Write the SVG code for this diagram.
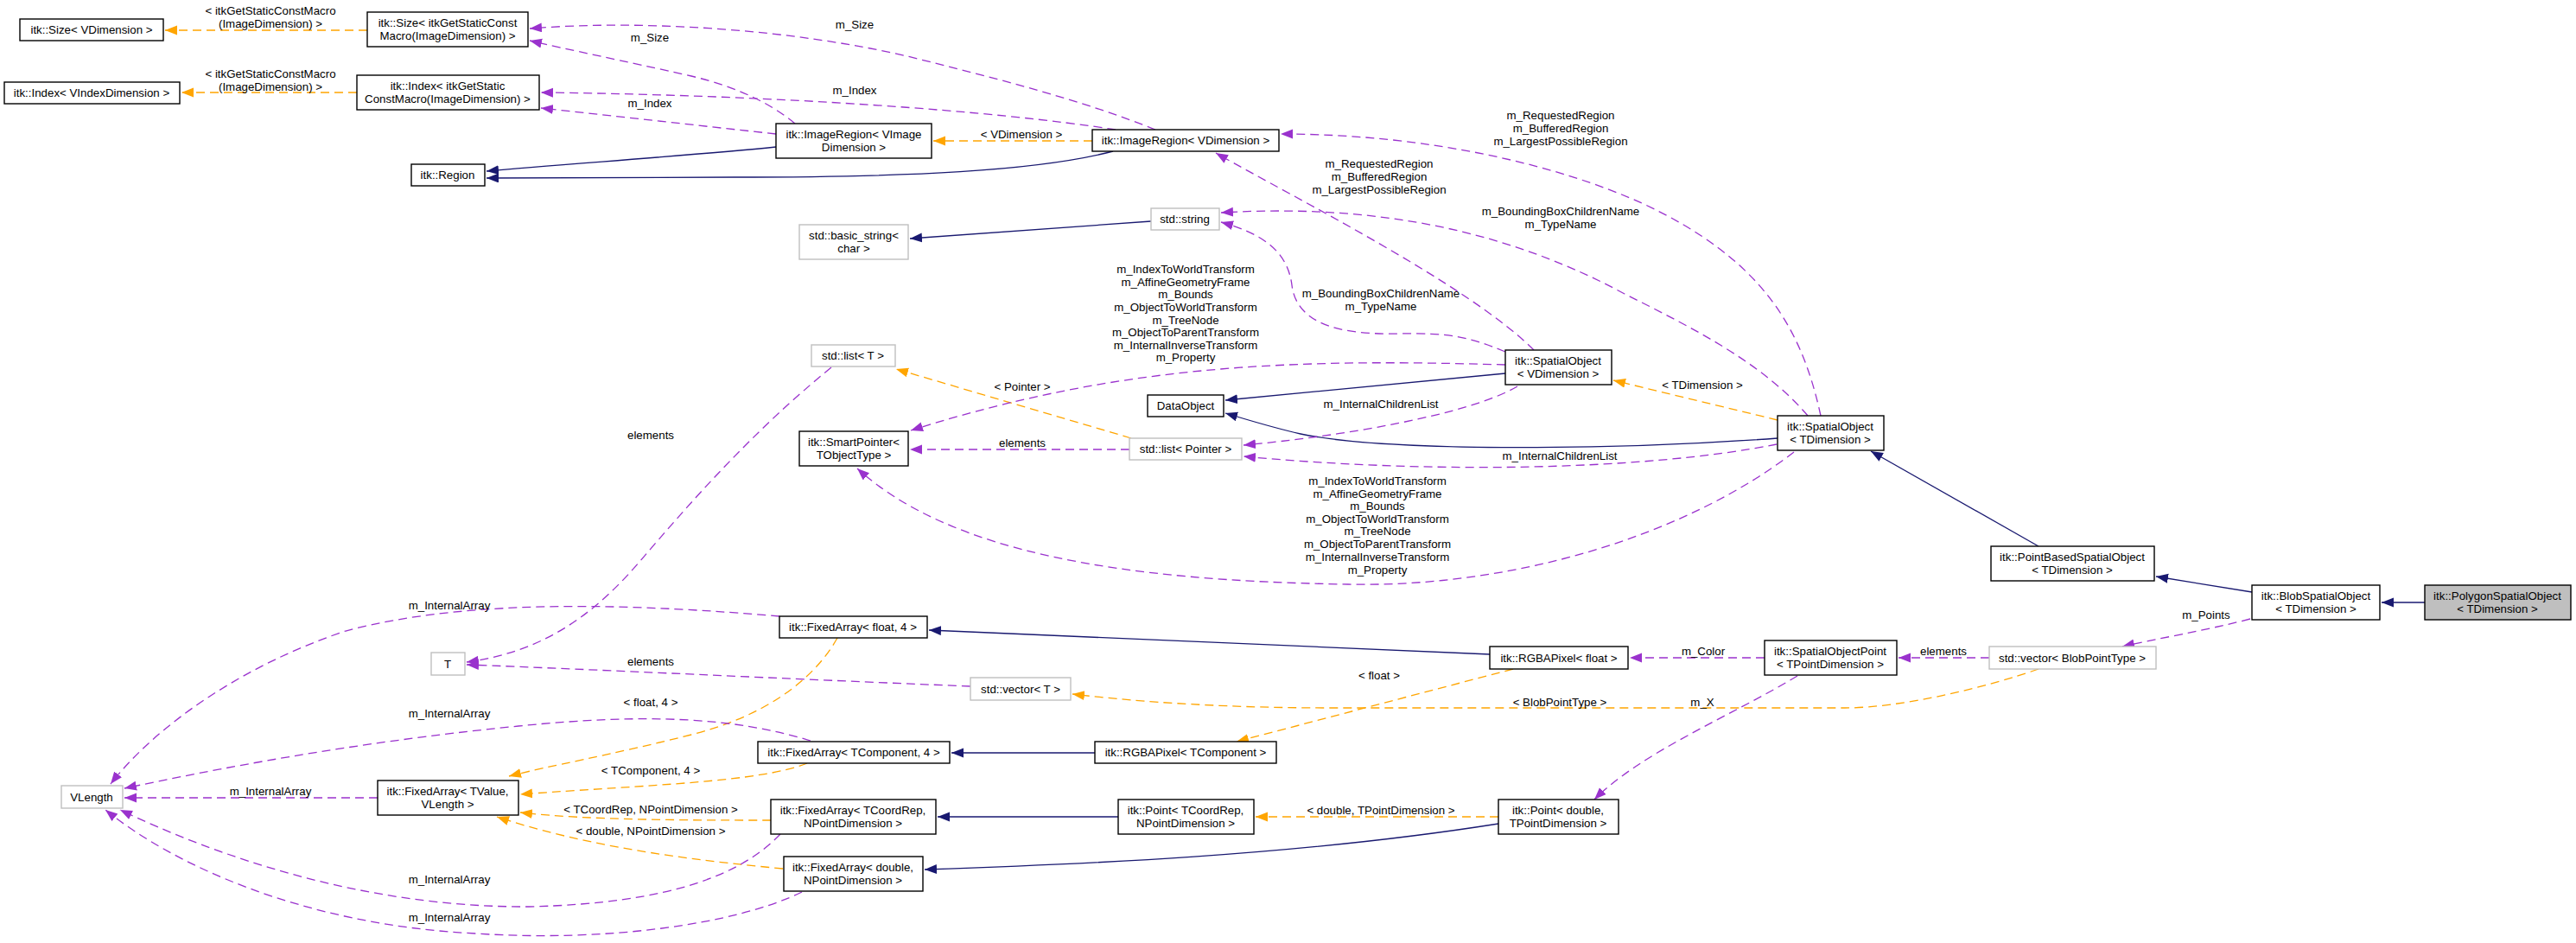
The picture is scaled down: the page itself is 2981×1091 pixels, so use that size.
<svg xmlns="http://www.w3.org/2000/svg" width="2981" height="1091" viewBox="0 0 2981 1091">
<style>
text{font-family:"Liberation Sans",Arial,Helvetica,sans-serif;font-size:13.3px;text-anchor:middle;fill:#000}
.node rect{fill:#fff;stroke:#000;stroke-width:1.4}
.node.ext rect{stroke:#bfbfbf}
.node.cur rect{fill:#bfbfbf}
.e{fill:none;stroke-width:1.3}
.inh{stroke:#191970;marker-end:url(#aN)}
.tpl{stroke:#ffa500;stroke-dasharray:10,6;marker-end:url(#aO)}
.use{stroke:#9a32cd;stroke-dasharray:10,6;marker-end:url(#aP)}
</style>
<defs>
<marker id="aN" markerUnits="userSpaceOnUse" markerWidth="15" markerHeight="12" refX="14" refY="5.5" orient="auto"><path d="M0,0 L14,5.5 L0,11 z" fill="#191970"/></marker>
<marker id="aO" markerUnits="userSpaceOnUse" markerWidth="15" markerHeight="12" refX="14" refY="5.5" orient="auto"><path d="M0,0 L14,5.5 L0,11 z" fill="#ffa500"/></marker>
<marker id="aP" markerUnits="userSpaceOnUse" markerWidth="15" markerHeight="12" refX="14" refY="5.5" orient="auto"><path d="M0,0 L14,5.5 L0,11 z" fill="#9a32cd"/></marker>
</defs>
<rect width="2981" height="1091" fill="#fff"/>
<g id="connectors">
<path class="e inh" d="M898,170 C800,180 650,190 563,198"/>
<path class="e inh" d="M1288,175 C1200,198 1050,205 850,205 L563,206"/>
<path class="e inh" d="M1332,256 L1053,276"/>
<path class="e inh" d="M1742,432 L1418,463"/>
<path class="e inh" d="M2057,507 C1850,522 1600,522 1505,502 C1470,494 1445,486 1418,478"/>
<path class="e inh" d="M2359,632 L2165,522"/>
<path class="e inh" d="M2606,685 L2495,667"/>
<path class="e inh" d="M2806,697 L2756,697"/>
<path class="e inh" d="M1724,757 L1075,729"/>
<path class="e inh" d="M1267,871 L1101,871"/>
<path class="e inh" d="M1294,945 L1085,945"/>
<path class="e inh" d="M1734,953 C1500,990 1250,1000 1070,1006"/>
<path class="e tpl" d="M425,35 L191,35"/>
<path class="e tpl" d="M413,107 L210,107"/>
<path class="e tpl" d="M1264,163 L1080,163"/>
<path class="e tpl" d="M2057,486 L1867,440"/>
<path class="e tpl" d="M1309,507 L1037,427"/>
<path class="e tpl" d="M2359,774 C2300,795 2200,819 2135,819 L1539,819 C1400,819 1300,810 1241,803"/>
<path class="e tpl" d="M1751,774 L1431,858"/>
<path class="e tpl" d="M1734,945 L1453,945"/>
<path class="e tpl" d="M969,738 C940,790 880,830 800,850 C700,875 640,885 589,898"/>
<path class="e tpl" d="M934,883 C880,905 750,908 602,919"/>
<path class="e tpl" d="M892,949 C800,949 680,949 602,940"/>
<path class="e tpl" d="M906,1005 C800,995 680,980 575,945"/>
<path class="e use" d="M1337,150 C1250,115 1150,90 1050,65 C920,35 750,22 613,33"/>
<path class="e use" d="M920,143 C890,118 850,100 800,88 C720,70 660,58 613,47"/>
<path class="e use" d="M1291,150 C1150,128 900,110 626,107"/>
<path class="e use" d="M898,155 L626,125"/>
<path class="e use" d="M2107,481 C2085,380 2040,300 1900,235 C1800,190 1650,155 1482,155"/>
<path class="e use" d="M2092,481 C2040,420 1960,380 1880,340 C1750,270 1600,235 1413,246"/>
<path class="e use" d="M1775,405 C1700,330 1500,230 1407,177"/>
<path class="e use" d="M1742,407 C1700,390 1680,385 1620,386 C1540,388 1500,370 1495,330 C1490,290 1460,270 1413,257"/>
<path class="e use" d="M1742,422 C1500,415 1300,420 1054,498"/>
<path class="e use" d="M1307,520 L1053,520"/>
<path class="e use" d="M1756,447 C1700,480 1550,505 1439,515"/>
<path class="e use" d="M2056,514 C1900,545 1650,548 1439,528"/>
<path class="e use" d="M2076,523 C1950,620 1750,680 1560,676 C1300,672 1100,640 992,542"/>
<path class="e use" d="M2042,761 L1886,761"/>
<path class="e use" d="M2302,761 L2197,761"/>
<path class="e use" d="M2604,716 C2550,730 2500,738 2456,748"/>
<path class="e use" d="M2080,782 C2000,830 1900,870 1845,925"/>
<path class="e use" d="M962,425 C870,500 800,580 740,650 C680,720 620,755 540,766"/>
<path class="e use" d="M1123,794 C900,785 700,775 540,769"/>
<path class="e use" d="M902,713 C750,700 550,690 400,730 C280,770 180,840 128,907"/>
<path class="e use" d="M938,857 C850,830 750,825 600,840 C400,860 250,890 144,912"/>
<path class="e use" d="M437,923 L144,923"/>
<path class="e use" d="M903,965 C860,1010 780,1045 612,1049 C420,1050 250,990 139,937"/>
<path class="e use" d="M928,1032 C850,1070 700,1090 550,1080 C350,1070 200,1000 122,937"/>
<g id="edge-labels">
<text x="313" y="17">&lt; itkGetStaticConstMacro</text>
<text x="313" y="32">(ImageDimension) &gt;</text>
<text x="313" y="90">&lt; itkGetStaticConstMacro</text>
<text x="313" y="105">(ImageDimension) &gt;</text>
<text x="752" y="48">m_Size</text>
<text x="989" y="33">m_Size</text>
<text x="752" y="124">m_Index</text>
<text x="989" y="109">m_Index</text>
<text x="1182" y="160">&lt; VDimension &gt;</text>
<text x="1806" y="138">m_RequestedRegion</text>
<text x="1806" y="153">m_BufferedRegion</text>
<text x="1806" y="168">m_LargestPossibleRegion</text>
<text x="1596" y="194">m_RequestedRegion</text>
<text x="1596" y="209">m_BufferedRegion</text>
<text x="1596" y="224">m_LargestPossibleRegion</text>
<text x="1806" y="249">m_BoundingBoxChildrenName</text>
<text x="1806" y="264">m_TypeName</text>
<text x="1598" y="344">m_BoundingBoxChildrenName</text>
<text x="1598" y="359">m_TypeName</text>
<text x="1372" y="316">m_IndexToWorldTransform</text>
<text x="1372" y="331">m_AffineGeometryFrame</text>
<text x="1372" y="345">m_Bounds</text>
<text x="1372" y="360">m_ObjectToWorldTransform</text>
<text x="1372" y="375">m_TreeNode</text>
<text x="1372" y="389">m_ObjectToParentTransform</text>
<text x="1372" y="404">m_InternalInverseTransform</text>
<text x="1372" y="418">m_Property</text>
<text x="1594" y="561">m_IndexToWorldTransform</text>
<text x="1594" y="576">m_AffineGeometryFrame</text>
<text x="1594" y="590">m_Bounds</text>
<text x="1594" y="605">m_ObjectToWorldTransform</text>
<text x="1594" y="619">m_TreeNode</text>
<text x="1594" y="634">m_ObjectToParentTransform</text>
<text x="1594" y="649">m_InternalInverseTransform</text>
<text x="1594" y="664">m_Property</text>
<text x="1183" y="452">&lt; Pointer &gt;</text>
<text x="1183" y="517">elements</text>
<text x="1598" y="472">m_InternalChildrenList</text>
<text x="1805" y="532">m_InternalChildrenList</text>
<text x="1970" y="450">&lt; TDimension &gt;</text>
<text x="2553" y="716">m_Points</text>
<text x="2249" y="758">elements</text>
<text x="1971" y="758">m_Color</text>
<text x="1805" y="817">&lt; BlobPointType &gt;</text>
<text x="1970" y="817">m_X</text>
<text x="1596" y="786">&lt; float &gt;</text>
<text x="1598" y="942">&lt; double, TPointDimension &gt;</text>
<text x="753" y="508">elements</text>
<text x="753" y="770">elements</text>
<text x="520" y="705">m_InternalArray</text>
<text x="520" y="830">m_InternalArray</text>
<text x="313" y="920">m_InternalArray</text>
<text x="520" y="1022">m_InternalArray</text>
<text x="520" y="1066">m_InternalArray</text>
<text x="753" y="817">&lt; float, 4 &gt;</text>
<text x="753" y="896">&lt; TComponent, 4 &gt;</text>
<text x="753" y="941">&lt; TCoordRep, NPointDimension &gt;</text>
<text x="753" y="966">&lt; double, NPointDimension &gt;</text>
</g>
</g>
<g id="n_size_vdim" class="node"><rect x="23" y="22" width="166" height="25"/><text x="106" y="39">itk::Size&lt; VDimension &gt;</text></g>
<g id="n_size_itk" class="node"><rect x="425" y="14" width="186" height="40"/><text x="518" y="31">itk::Size&lt; itkGetStaticConst</text><text x="518" y="46">Macro(ImageDimension) &gt;</text></g>
<g id="n_index_vidx" class="node"><rect x="5" y="95" width="203" height="25"/><text x="106" y="112">itk::Index&lt; VIndexDimension &gt;</text></g>
<g id="n_index_itk" class="node"><rect x="413" y="87" width="211" height="40"/><text x="518" y="104">itk::Index&lt; itkGetStatic</text><text x="518" y="119">ConstMacro(ImageDimension) &gt;</text></g>
<g id="n_region" class="node"><rect x="476" y="190" width="85" height="25"/><text x="518" y="207">itk::Region</text></g>
<g id="n_imgreg_vimg" class="node"><rect x="898" y="143" width="180" height="40"/><text x="988" y="160">itk::ImageRegion&lt; VImage</text><text x="988" y="175">Dimension &gt;</text></g>
<g id="n_imgreg_vdim" class="node"><rect x="1264" y="150" width="216" height="25"/><text x="1372" y="167">itk::ImageRegion&lt; VDimension &gt;</text></g>
<g id="n_string" class="node ext"><rect x="1332" y="241" width="79" height="25"/><text x="1371" y="258">std::string</text></g>
<g id="n_basic_string" class="node ext"><rect x="925" y="260" width="126" height="40"/><text x="988" y="277">std::basic_string&lt;</text><text x="988" y="292">char &gt;</text></g>
<g id="n_list_t" class="node ext"><rect x="939" y="399" width="97" height="25"/><text x="987" y="416">std::list&lt; T &gt;</text></g>
<g id="n_smartptr" class="node"><rect x="925" y="499" width="126" height="40"/><text x="988" y="516">itk::SmartPointer&lt;</text><text x="988" y="531">TObjectType &gt;</text></g>
<g id="n_dataobject" class="node"><rect x="1328" y="457" width="88" height="25"/><text x="1372" y="474">DataObject</text></g>
<g id="n_list_ptr" class="node ext"><rect x="1307" y="507" width="130" height="25"/><text x="1372" y="524">std::list&lt; Pointer &gt;</text></g>
<g id="n_so_vdim" class="node"><rect x="1742" y="405" width="123" height="40"/><text x="1803" y="422">itk::SpatialObject</text><text x="1803" y="437">&lt; VDimension &gt;</text></g>
<g id="n_so_tdim" class="node"><rect x="2057" y="481" width="123" height="40"/><text x="2118" y="498">itk::SpatialObject</text><text x="2118" y="513">&lt; TDimension &gt;</text></g>
<g id="n_pointbased" class="node"><rect x="2304" y="632" width="189" height="40"/><text x="2398" y="649">itk::PointBasedSpatialObject</text><text x="2398" y="664">&lt; TDimension &gt;</text></g>
<g id="n_blob" class="node"><rect x="2606" y="677" width="148" height="40"/><text x="2680" y="694">itk::BlobSpatialObject</text><text x="2680" y="709">&lt; TDimension &gt;</text></g>
<g id="n_polygon" class="node cur"><rect x="2806" y="677" width="169" height="40"/><text x="2890" y="694">itk::PolygonSpatialObject</text><text x="2890" y="709">&lt; TDimension &gt;</text></g>
<g id="n_vec_blob" class="node ext"><rect x="2302" y="748" width="193" height="26"/><text x="2398" y="766">std::vector&lt; BlobPointType &gt;</text></g>
<g id="n_sopoint" class="node"><rect x="2042" y="741" width="153" height="40"/><text x="2118" y="758">itk::SpatialObjectPoint</text><text x="2118" y="773">&lt; TPointDimension &gt;</text></g>
<g id="n_rgba_float" class="node"><rect x="1724" y="748" width="160" height="26"/><text x="1804" y="766">itk::RGBAPixel&lt; float &gt;</text></g>
<g id="n_fa_float4" class="node"><rect x="902" y="713" width="171" height="25"/><text x="987" y="730">itk::FixedArray&lt; float, 4 &gt;</text></g>
<g id="n_T" class="node ext"><rect x="499" y="755" width="39" height="26"/><text x="518" y="773">T</text></g>
<g id="n_vec_t" class="node ext"><rect x="1123" y="784" width="116" height="26"/><text x="1181" y="802">std::vector&lt; T &gt;</text></g>
<g id="n_fa_tcomp" class="node"><rect x="877" y="858" width="222" height="25"/><text x="988" y="875">itk::FixedArray&lt; TComponent, 4 &gt;</text></g>
<g id="n_rgba_tcomp" class="node"><rect x="1267" y="858" width="210" height="25"/><text x="1372" y="875">itk::RGBAPixel&lt; TComponent &gt;</text></g>
<g id="n_fa_tvalue" class="node"><rect x="437" y="903" width="163" height="40"/><text x="518" y="920">itk::FixedArray&lt; TValue,</text><text x="518" y="935">VLength &gt;</text></g>
<g id="n_vlength" class="node ext"><rect x="71" y="909" width="71" height="26"/><text x="106" y="927">VLength</text></g>
<g id="n_fa_tcoord" class="node"><rect x="892" y="925" width="191" height="40"/><text x="987" y="942">itk::FixedArray&lt; TCoordRep,</text><text x="987" y="957">NPointDimension &gt;</text></g>
<g id="n_point_tcoord" class="node"><rect x="1294" y="925" width="157" height="40"/><text x="1372" y="942">itk::Point&lt; TCoordRep,</text><text x="1372" y="957">NPointDimension &gt;</text></g>
<g id="n_point_double" class="node"><rect x="1734" y="925" width="139" height="40"/><text x="1803" y="942">itk::Point&lt; double,</text><text x="1803" y="957">TPointDimension &gt;</text></g>
<g id="n_fa_double" class="node"><rect x="907" y="991" width="161" height="40"/><text x="987" y="1008">itk::FixedArray&lt; double,</text><text x="987" y="1023">NPointDimension &gt;</text></g>
</svg>
